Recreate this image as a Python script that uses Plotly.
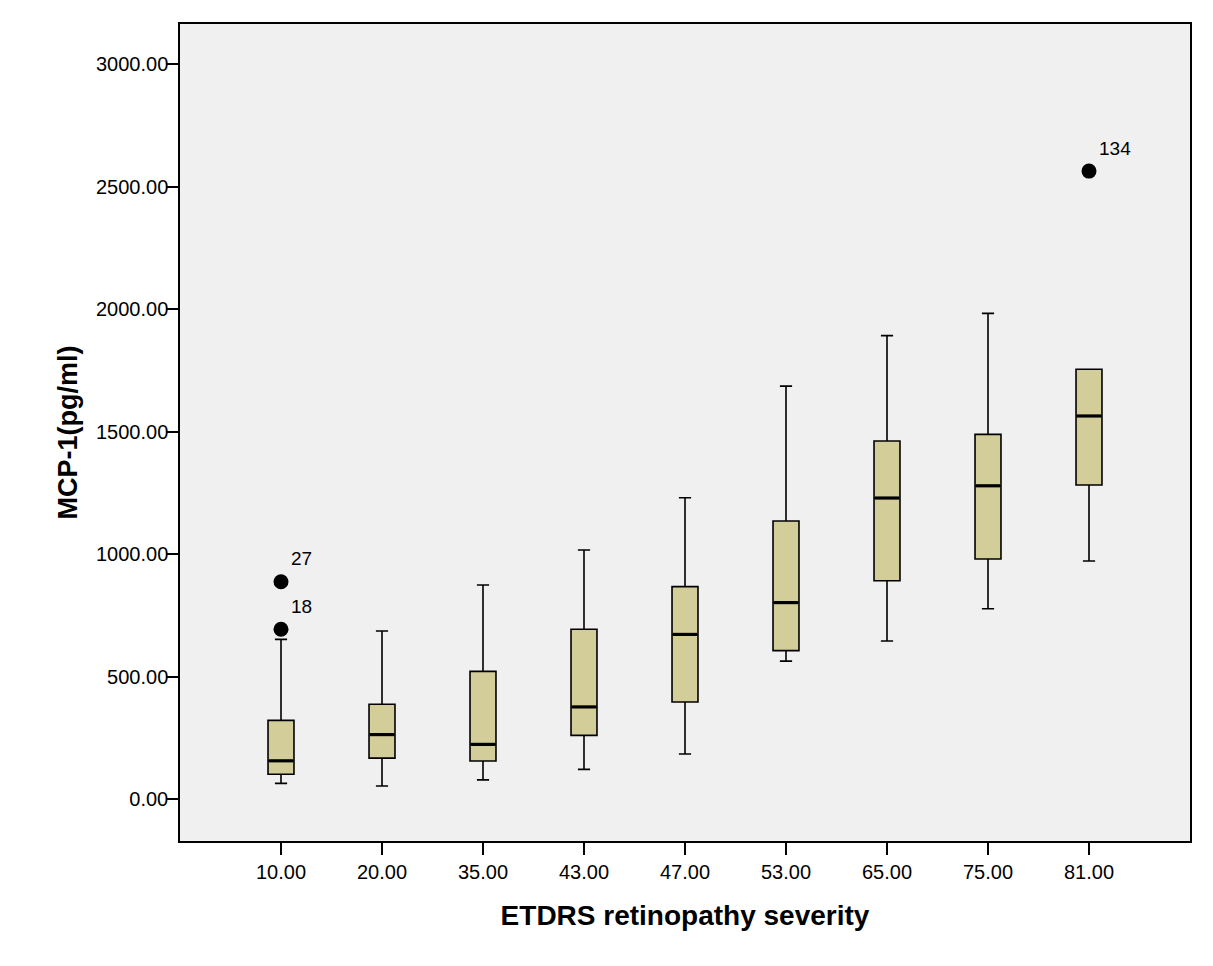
import plotly.graph_objects as go

# ---- data ----
categories = ["10.00", "20.00", "35.00", "43.00", "47.00", "53.00", "65.00", "75.00", "81.00"]
lower_whisker = [64, 53, 78, 121, 184, 563, 645, 777, 972]
q1_values = [101, 167, 155, 260, 396, 606, 891, 980, 1282]
median_values = [156, 263, 223, 376, 672, 802, 1229, 1279, 1564]
q3_values = [321, 387, 521, 693, 867, 1135, 1462, 1489, 1755]
upper_whisker = [652, 686, 874, 1017, 1230, 1686, 1892, 1983, 1755]

outlier_category = ["10.00", "10.00", "81.00"]
outlier_values = [693, 887, 2564]
outlier_labels = ["18", "27", "134"]

y_tick_values = [0, 500, 1000, 1500, 2000, 2500, 3000]

# ---- styling ----
FONT = "Arial, Liberation Sans, sans-serif"
BOX_FILL = "#D3CE99"
BG = "#F0F0F0"
BOX_W = 0.257

positions = list(range(1, len(categories) + 1))
pos_of = {c: p for c, p in zip(categories, positions)}

fig = go.Figure()

fig.add_trace(go.Box(
    x=positions,
    q1=q1_values,
    median=median_values,
    q3=q3_values,
    lowerfence=lower_whisker,
    upperfence=upper_whisker,
    width=BOX_W,
    whiskerwidth=0.47,
    fillcolor=BOX_FILL,
    line=dict(color="black", width=1.6),
    boxpoints=False,
    showlegend=False,
    hoverinfo="skip",
))

# thick median lines
mx, my = [], []
for p, m in zip(positions, median_values):
    mx += [p - BOX_W / 2 + 0.01, p + BOX_W / 2 - 0.01, None]
    my += [m, m, None]
fig.add_trace(go.Scatter(x=mx, y=my, mode="lines",
                         line=dict(color="black", width=3.2),
                         showlegend=False, hoverinfo="skip"))

# outliers
ox = [pos_of[c] for c in outlier_category]
fig.add_trace(go.Scatter(x=ox, y=outlier_values, mode="markers",
                         marker=dict(color="black", size=15),
                         showlegend=False, hoverinfo="skip"))

for x, y, t in zip(ox, outlier_values, outlier_labels):
    fig.add_annotation(x=x, y=y, text=t, showarrow=False,
                       xanchor="left", yanchor="middle",
                       xshift=8, yshift=23,
                       font=dict(family=FONT, size=19, color="black"))

fig.update_layout(
    width=1205, height=958,
    margin=dict(l=172, r=23, t=16, b=125),
    paper_bgcolor="white",
    plot_bgcolor=BG,
    font=dict(family=FONT, color="black"),
    showlegend=False,
)

fig.update_xaxes(
    range=[0, len(categories) + 1],
    tickmode="array", tickvals=positions, ticktext=categories,
    ticks="outside", ticklen=12, tickwidth=1.5, tickcolor="black",
    tickfont=dict(family=FONT, size=20),
    showgrid=False, zeroline=False,
    showline=True, linecolor="black", linewidth=1.5, mirror=True,
    title=dict(text="<b>ETDRS retinopathy severity</b>",
               font=dict(family=FONT, size=28), standoff=24),
)

fig.update_yaxes(
    range=[-171.5, 3164.6],
    tickmode="array", tickvals=y_tick_values,
    ticktext=[f"{v:.2f}" for v in y_tick_values],
    ticks="outside", ticklen=12, tickwidth=1.5, tickcolor="black",
    tickfont=dict(family=FONT, size=20),
    ticklabelstandoff=-6,
    showgrid=False, zeroline=False,
    showline=True, linecolor="black", linewidth=1.5, mirror=True,
    title=dict(text="<b>MCP-1(pg/ml)</b>",
               font=dict(family=FONT, size=27), standoff=11),
)

fig.write_html("out.html")
